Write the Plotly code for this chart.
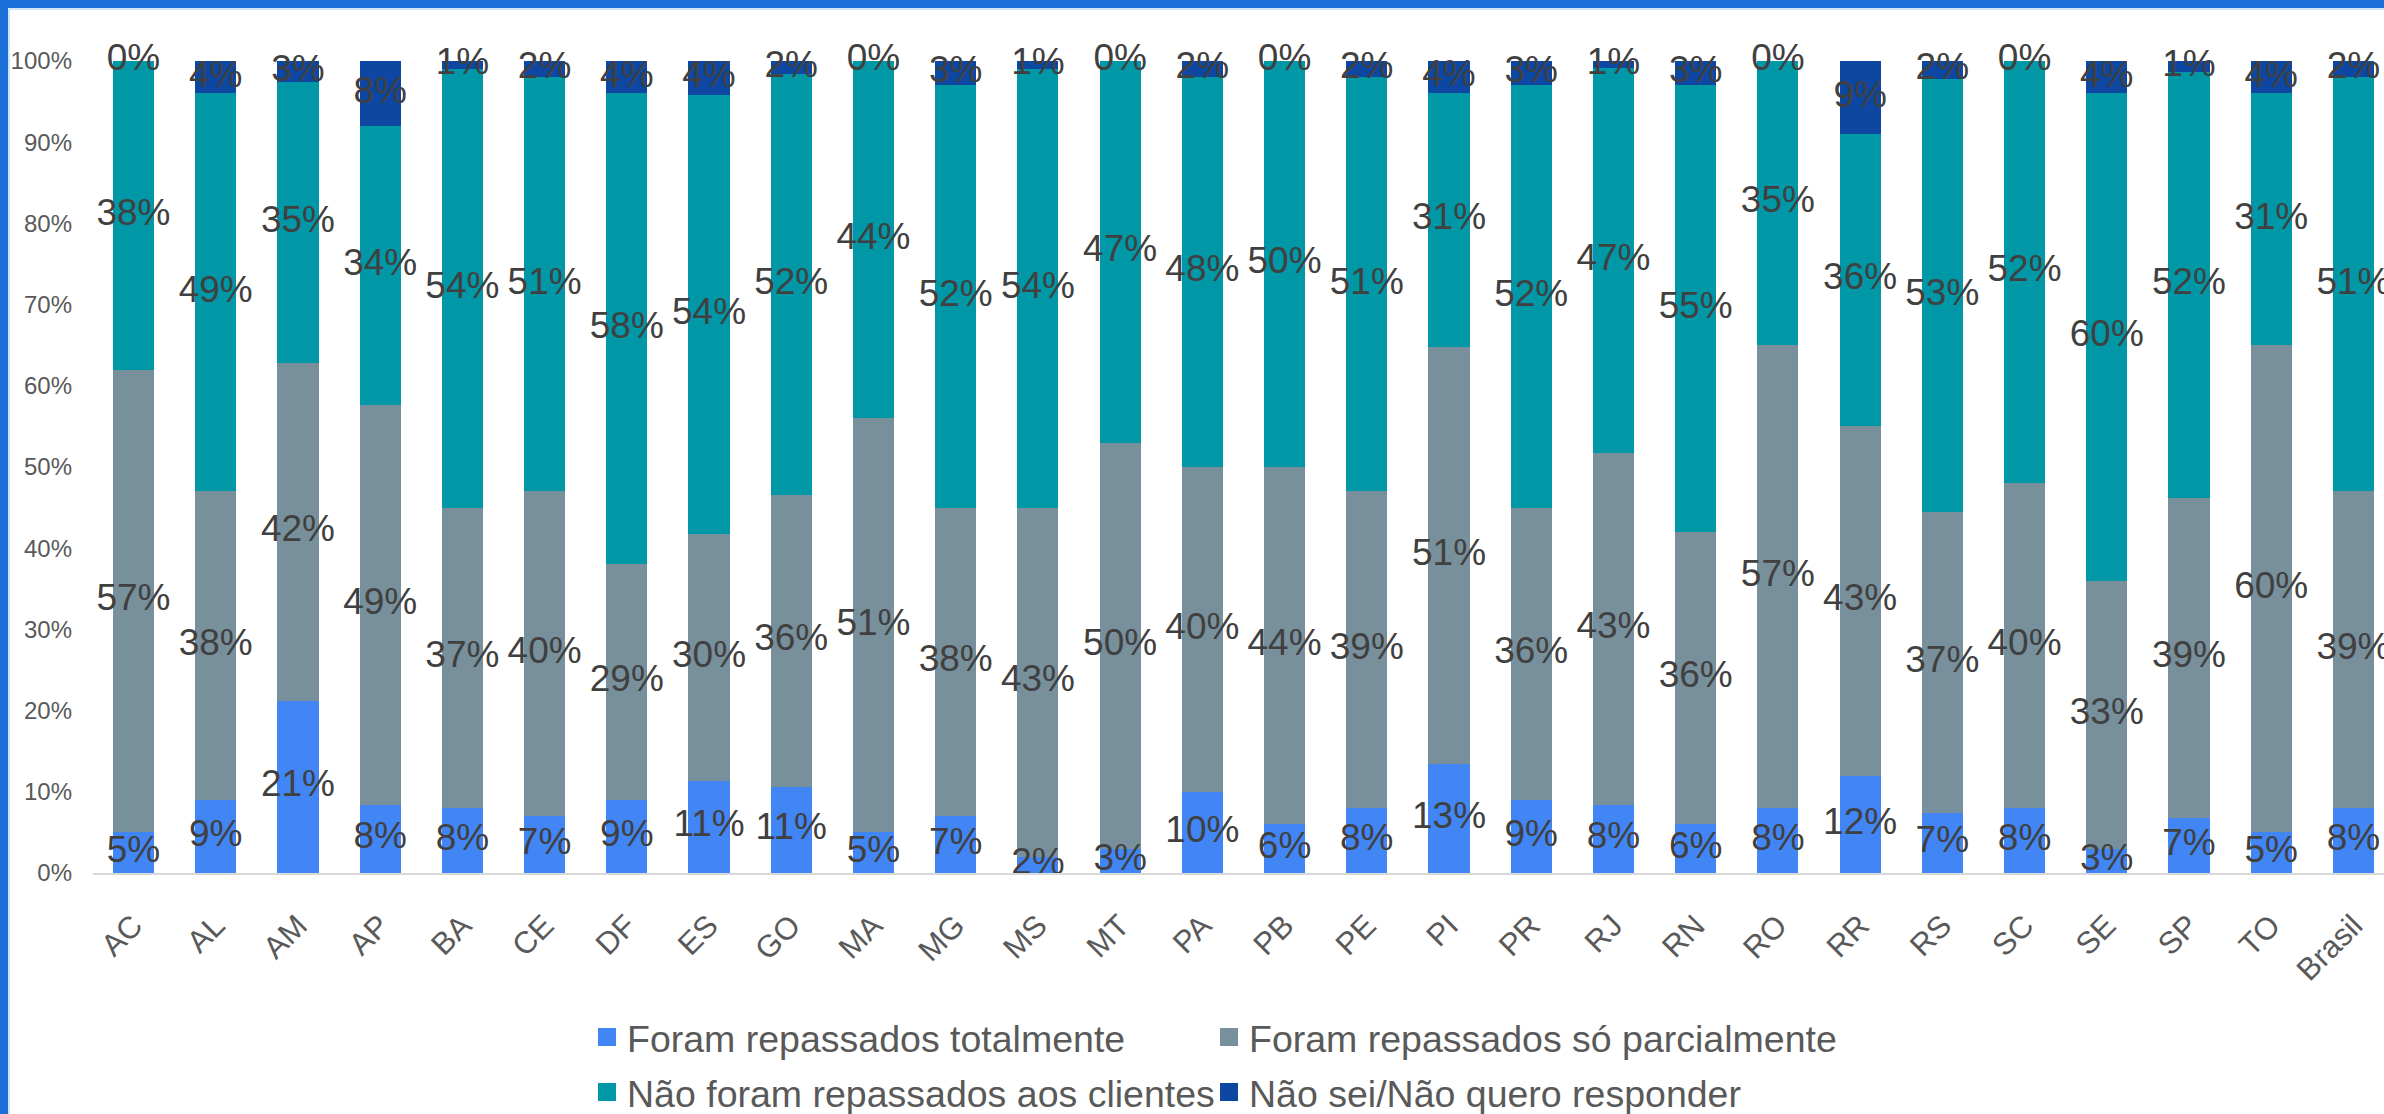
import plotly.graph_objects as go

categories = ["AC", "AL", "AM", "AP", "BA", "CE", "DF", "ES", "GO", "MA", "MG", "MS", "MT", "PA",
              "PB", "PE", "PI", "PR", "RJ", "RN", "RO", "RR", "RS", "SC", "SE", "SP", "TO", "Brasil"]

totalmente = [5, 9, 21.2, 8.4, 8, 7, 9, 11.3, 10.6, 5, 7, 2, 3, 10,
              6, 8, 13.4, 9, 8.4, 6, 8, 12, 7.4, 8, 3, 6.8, 5, 8]
parcialmente = [57, 38, 41.6, 49.2, 37, 40, 29, 30.4, 36.0, 51, 38, 43, 50, 40,
                44, 39, 51.4, 36, 43.3, 36, 57, 43, 37.0, 40, 33, 39.4, 60, 39]
nao_repassados = [38, 49, 34.6, 34.4, 54, 51, 58, 54.1, 51.8, 44, 52, 54, 47, 48,
                  50, 51, 31.3, 52, 47.4, 55, 35, 36, 53.4, 52, 60, 52.4, 31, 51]
nao_sei = [0, 4, 2.6, 8.0, 1, 2, 4, 4.2, 1.6, 0, 3, 1, 0, 2,
           0, 2, 3.9, 3, 0.9, 3, 0, 9, 2.2, 0, 4, 1.4, 4, 2]

series_names = ["Foram repassados totalmente", "Foram repassados só parcialmente",
                "Não foram repassados aos clientes", "Não sei/Não quero responder"]
series_values = [totalmente, parcialmente, nao_repassados, nao_sei]
colors = ["#4285F4", "#78909C", "#0097A7", "#0D47A1"]
y_ticks = [0, 10, 20, 30, 40, 50, 60, 70, 80, 90, 100]

W, H = 2384, 1114
L, R, T, B = 93, 0, 61, 241
plot_w = W - L - R
plot_h = H - T - B

FONT = "Liberation Sans, Arial, sans-serif"

fig = go.Figure()

# stacked bars
for name, vals, col in zip(series_names, series_values, colors):
    fig.add_trace(go.Bar(
        x=categories, y=vals, name=name, marker=dict(color=col, line=dict(width=0)),
        showlegend=False, hoverinfo="skip"))

# data labels centered in each segment
base = [0.0] * len(categories)
for vals in series_values:
    centers = [b + v / 2 for b, v in zip(base, vals)]
    fig.add_trace(go.Scatter(
        x=categories, y=centers, mode="text",
        text=[f"{v:.0f}%" for v in vals],
        textfont=dict(family=FONT, size=37, color="#404040"),
        textposition="middle center", cliponaxis=False,
        showlegend=False, hoverinfo="skip"))
    base = [b + v for b, v in zip(base, vals)]

# legend entries: one legend per entry, arranged in a 2x2 grid
legend_ids = ["legend", "legend2", "legend3", "legend4"]
for name, col, lid in zip(series_names, colors, legend_ids):
    fig.add_trace(go.Scatter(
        x=[None], y=[None], mode="markers", name=name,
        marker=dict(symbol="square", size=16, color=col, line=dict(color=col, width=2)),
        legend=lid, hoverinfo="skip"))

spacing = 82.22
x0 = -(133.5 - L) / spacing
x1 = x0 + plot_w / spacing

legend_common = dict(
    orientation="h", xref="container", yref="container",
    xanchor="left", yanchor="middle", traceorder="normal",
    font=dict(family=FONT, size=37.5, color="#595959"),
    bgcolor="rgba(0,0,0,0)", itemsizing="trace",
)

col_x = [587, 1209]
row_y = [1037, 1092]
legend_layout = {}
for i, lid in enumerate(legend_ids):
    legend_layout[lid] = dict(x=col_x[i % 2] / W, y=(H - row_y[i // 2]) / H, **legend_common)


def px_x(p):
    return (p - L) / plot_w


def px_y(p):
    return (H - B - p) / plot_h


shapes = [
    dict(type="rect", xref="paper", yref="paper", x0=px_x(0), x1=px_x(W), y0=px_y(8), y1=px_y(0),
         fillcolor="#1B6FD8", line=dict(width=0), layer="above"),
    dict(type="rect", xref="paper", yref="paper", x0=px_x(0), x1=px_x(8), y0=px_y(H), y1=px_y(0),
         fillcolor="#1B6FD8", line=dict(width=0), layer="above"),
    dict(type="line", xref="paper", yref="paper", x0=px_x(9), x1=px_x(W), y0=px_y(9), y1=px_y(9),
         line=dict(color="#CFE3F7", width=2), layer="above"),
    dict(type="line", xref="paper", yref="paper", x0=px_x(9), x1=px_x(9), y0=px_y(H), y1=px_y(9),
         line=dict(color="#CFE3F7", width=2), layer="above"),
]

fig.update_layout(
    width=W, height=H,
    margin=dict(l=L, r=R, t=T, b=B, pad=0),
    barmode="stack", bargap=0.5,
    paper_bgcolor="white", plot_bgcolor="white",
    font=dict(family=FONT, color="#595959"),
    xaxis=dict(type="category", range=[x0, x1], showgrid=False, zeroline=False,
               showline=True, linecolor="#D9D9D9", linewidth=2,
               tickangle=-45, tickfont=dict(family=FONT, size=31, color="#595959"),
               ticks="", ticklabelstandoff=20, automargin=False),
    yaxis=dict(range=[0, 100], tickvals=y_ticks,
               ticktext=[f"{v}%" for v in y_ticks],
               showgrid=False, zeroline=False, showline=False, ticks="",
               tickfont=dict(family=FONT, size=24, color="#595959"),
               ticklabelstandoff=20, automargin=False),
    shapes=shapes,
    showlegend=True,
    **legend_layout,
)

fig.write_html("out.html", config={"displayModeBar": False},
               post_script="document.body.style.margin='0';document.body.style.overflow='hidden';")
